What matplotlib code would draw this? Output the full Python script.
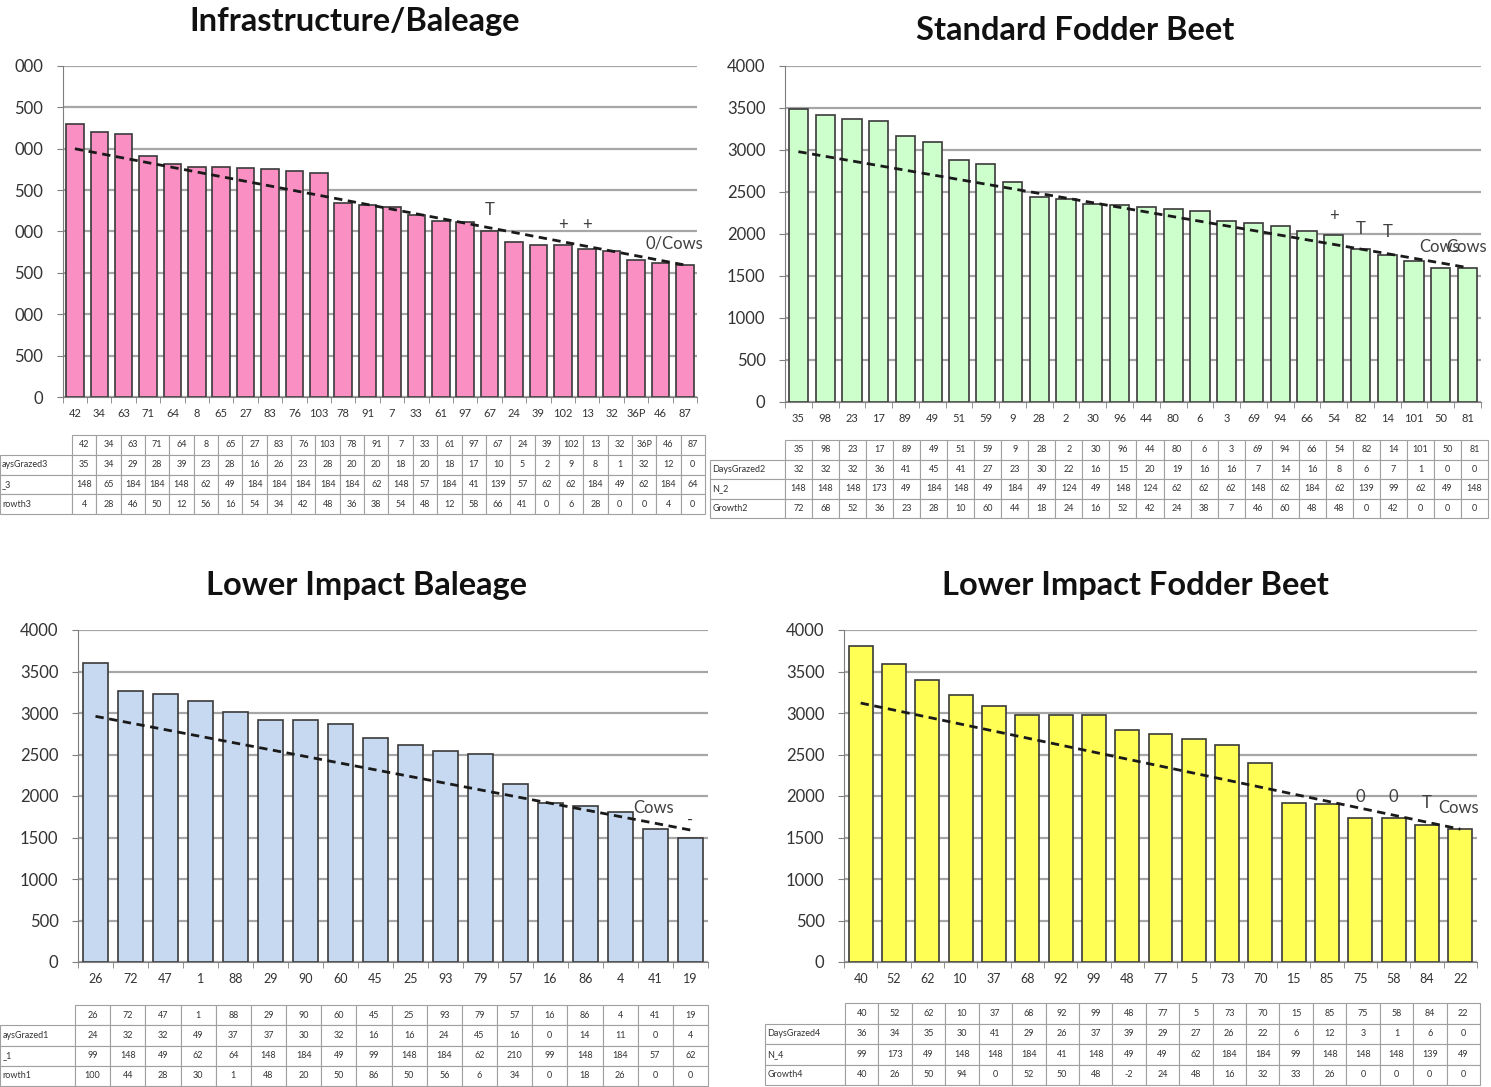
import matplotlib
matplotlib.use('Agg')
import matplotlib.pyplot as plt
import numpy as np

plt.rcParams['font.family'] = ['Lato', 'DejaVu Sans']

W, H = 1491, 1087

# ---------------- data ----------------
# Infrastructure/Baleage (top left)
cats_ib = ['42', '34', '63', '71', '64', '8', '65', '27', '83', '76', '103', '78', '91',
           '7', '33', '61', '97', '67', '24', '39', '102', '13', '32', '36P', '46', '87']
vals_ib = [3300, 3200, 3180, 2910, 2816, 2784, 2784, 2772, 2756, 2732, 2712, 2344, 2320,
           2300, 2196, 2124, 2120, 2012, 1876, 1840, 1836, 1792, 1760, 1652, 1616, 1600]
days_ib = [35, 34, 29, 28, 39, 23, 28, 16, 26, 23, 28, 20, 20, 18, 20, 18, 17, 10, 5, 2, 9, 8, 1, 32, 12, 0]
n_ib = [148, 65, 184, 184, 148, 62, 49, 184, 184, 184, 184, 184, 62, 148, 57, 184, 41, 139, 57, 62,
        62, 184, 49, 62, 184, 64]
growth_ib = [4, 28, 46, 50, 12, 56, 16, 54, 34, 42, 48, 36, 38, 54, 48, 12, 58, 66, 41, 0, 6, 28, 0, 0, 4, 0]
trend_ib = [3000, 1595]
rowlab_ib = ['aysGrazed3', '_3', 'rowth3']
ytl_ib = ['0', '500', '000', '500', '000', '500', '000', '500', '000']
notes_ib = [(17, 2255, 'T', 'center'), (20, 2080, '+', 'center'), (21, 2080, '+', 'center'),
            (23.4, 1860, '0/Cows', 'left')]

# Standard Fodder Beet (top right)
cats_sf = ['35', '98', '23', '17', '89', '49', '51', '59', '9', '28', '2', '30', '96',
           '44', '80', '6', '3', '69', '94', '66', '54', '82', '14', '101', '50', '81']
vals_sf = [3490, 3420, 3370, 3350, 3170, 3100, 2880, 2830, 2620, 2440, 2420, 2360, 2350,
           2320, 2300, 2270, 2160, 2130, 2090, 2030, 1990, 1820, 1755, 1680, 1600, 1595]
days_sf = [32, 32, 32, 36, 41, 45, 41, 27, 23, 30, 22, 16, 15, 20, 19, 16, 16, 7, 14, 16, 8, 6, 7, 1, 0, 0]
n_sf = [148, 148, 148, 173, 49, 184, 148, 49, 184, 49, 124, 49, 148, 124, 62, 62, 62, 148, 62, 184,
        62, 139, 99, 62, 49, 148]
growth_sf = [72, 68, 52, 36, 23, 28, 10, 60, 44, 18, 24, 16, 52, 42, 24, 38, 7, 46, 60, 48, 48, 0, 42, 0, 0, 0]
trend_sf = [2980, 1600]
rowlab_sf = ['DaysGrazed2', 'N_2', 'Growth2']
ytl_sf = ['0', '500', '1000', '1500', '2000', '2500', '3000', '3500', '4000']
notes_sf = [(20, 2215, '+', 'center'), (21, 2060, 'T', 'center'), (22, 2025, 'T', 'center'),
            (23.2, 1845, 'Cows', 'left'), (24.2, 1845, 'Cows', 'left')]

# Lower Impact Baleage (bottom left)
cats_lb = ['26', '72', '47', '1', '88', '29', '90', '60', '45', '25', '93', '79', '57', '16', '86', '4', '41', '19']
vals_lb = [3600, 3270, 3230, 3150, 3010, 2910, 2910, 2865, 2700, 2610, 2545, 2505, 2145,
           1910, 1875, 1810, 1600, 1500]
days_lb = [24, 32, 32, 49, 37, 37, 30, 32, 16, 16, 24, 45, 16, 0, 14, 11, 0, 4]
n_lb = [99, 148, 49, 62, 64, 148, 184, 49, 99, 148, 184, 62, 210, 99, 148, 184, 57, 62]
growth_lb = [100, 44, 28, 30, 1, 48, 20, 50, 86, 50, 56, 6, 34, 0, 18, 26, 0, 0]
trend_lb = [2960, 1590]
rowlab_lb = ['aysGrazed1', '_1', 'rowth1']
notes_lb = [(15.37, 1855, 'Cows', 'left'), (17.0, 1715, '-', 'center')]

# Lower Impact Fodder Beet (bottom right)
cats_lf = ['40', '52', '62', '10', '37', '68', '92', '99', '48', '77', '5', '73', '70', '15', '85', '75', '58', '84', '22']
vals_lf = [3810, 3585, 3400, 3220, 3080, 2970, 2970, 2970, 2795, 2750, 2690, 2610, 2400,
           1920, 1900, 1740, 1730, 1650, 1600]
days_lf = [36, 34, 35, 30, 41, 29, 26, 37, 39, 29, 27, 26, 22, 6, 12, 3, 1, 6, 0]
n_lf = [99, 173, 49, 148, 148, 184, 41, 148, 49, 49, 62, 184, 184, 99, 148, 148, 148, 139, 49]
growth_lf = [40, 26, 50, 94, 0, 52, 50, 48, -2, 24, 48, 16, 32, 33, 26, 0, 0, 0, 0]
trend_lf = [3120, 1600]
rowlab_lf = ['DaysGrazed4', 'N_4', 'Growth4']
notes_lf = [(15, 1990, '0', 'center'), (16, 1990, '0', 'center'), (17, 1915, 'T', 'center'),
            (17.35, 1850, 'Cows', 'left')]

fig = plt.figure(figsize=(W / 100, H / 100), dpi=100)


def rect(l, t, r, b):
    return [l / W, 1 - b / H, (r - l) / W, (b - t) / H]


def panel(box, cats, vals, color, trend, notes, yticklabels, xfs):
    ax = fig.add_axes(rect(*box))
    n = len(cats)
    x = np.arange(n)
    ax.bar(x, vals, width=0.72, color=color, edgecolor='#3a3a3a', linewidth=1.2, zorder=2)
    ax.plot([0, n - 1], trend, ls=(0, (3, 2)), color='#1a1a1a', lw=2, zorder=3)
    for xi, yi, s, ha in notes:
        ax.text(xi, yi, s, ha=ha, va='center', fontsize=12, color='#404040', zorder=4)
    ax.set_xlim(-0.5, n - 0.5)
    ax.set_ylim(0, 4000)
    ax.set_yticks(np.arange(0, 4001, 500))
    ax.set_yticklabels(yticklabels)
    ax.set_xticks(x)
    ax.set_xticklabels(cats)
    ax.set_xticks(np.arange(-0.5, n), minor=True)
    ax.tick_params(axis='x', which='major', length=0, pad=8, labelsize=xfs, labelcolor='#333333')
    ax.tick_params(axis='x', which='minor', length=4, color='#7f7f7f', direction='out')
    ax.tick_params(axis='y', length=4, pad=10, labelsize=12, color='#7f7f7f', labelcolor='#333333')
    ax.yaxis.grid(True, color='#a6a6a6', lw=1.6)
    ax.set_axisbelow(True)
    for s in ['top', 'right']:
        ax.spines[s].set_visible(False)
    for s in ['left', 'bottom']:
        ax.spines[s].set_color('#7f7f7f')
    return ax


def table(box, lab_w, cats, rowlabels, rows):
    tax = fig.add_axes(rect(*box))
    tax.axis('off')
    n = len(cats)
    text = [[''] + cats] + [[lab] + [str(v) for v in r] for lab, r in zip(rowlabels, rows)]
    widths = [lab_w] + [(1 - lab_w) / n] * n
    tbl = tax.table(cellText=text, colWidths=widths, bbox=[0, 0, 1, 1], cellLoc='center')
    tbl.auto_set_font_size(False)
    tbl.set_fontsize(6.5)
    for (r, c), cell in tbl.get_celld().items():
        cell.set_edgecolor('#a0a0a0')
        cell.set_linewidth(0.8)
        cell.get_text().set_color('#333333')
        if c == 0:
            cell.get_text().set_ha('left')
            cell.PAD = 0.03
            if r == 0:
                cell.visible_edges = ''


# titles
tkw = dict(ha='center', va='center', fontsize=23.5, fontweight='bold', color='#111111')
fig.text(355 / W, 1 - 22 / H, 'Infrastructure/Baleage', **tkw)
fig.text(1075 / W, 1 - 30 / H, 'Standard Fodder Beet', **tkw)
fig.text(367 / W, 1 - 585 / H, 'Lower Impact Baleage', **tkw)
fig.text(1135 / W, 1 - 585 / H, 'Lower Impact Fodder Beet', **tkw)

panel((62.7, 66, 697, 397), cats_ib, vals_ib, '#f98fc3', trend_ib, notes_ib, ytl_ib, 8)
panel((785, 66, 1481, 402), cats_sf, vals_sf, '#ccffcc', trend_sf, notes_sf, ytl_sf, 8)
panel((78, 630, 708, 962), cats_lb, vals_lb, '#c6d9f1', trend_lb, notes_lb, ytl_sf, 9)
panel((844, 630, 1477, 962), cats_lf, vals_lf, '#ffff55', trend_lf, notes_lf, ytl_sf, 9)

table((0, 435, 705, 514), 72 / 705, cats_ib, rowlab_ib, [days_ib, n_ib, growth_ib])
table((710, 440, 1488, 518), 75 / 778, cats_sf, rowlab_sf, [days_sf, n_sf, growth_sf])
table((0, 1005, 708, 1086), 75 / 708, cats_lb, rowlab_lb, [days_lb, n_lb, growth_lb])
table((765, 1003, 1480, 1085), 80 / 715, cats_lf, rowlab_lf, [days_lf, n_lf, growth_lf])

fig.savefig('out.png', dpi=100, facecolor='white')
